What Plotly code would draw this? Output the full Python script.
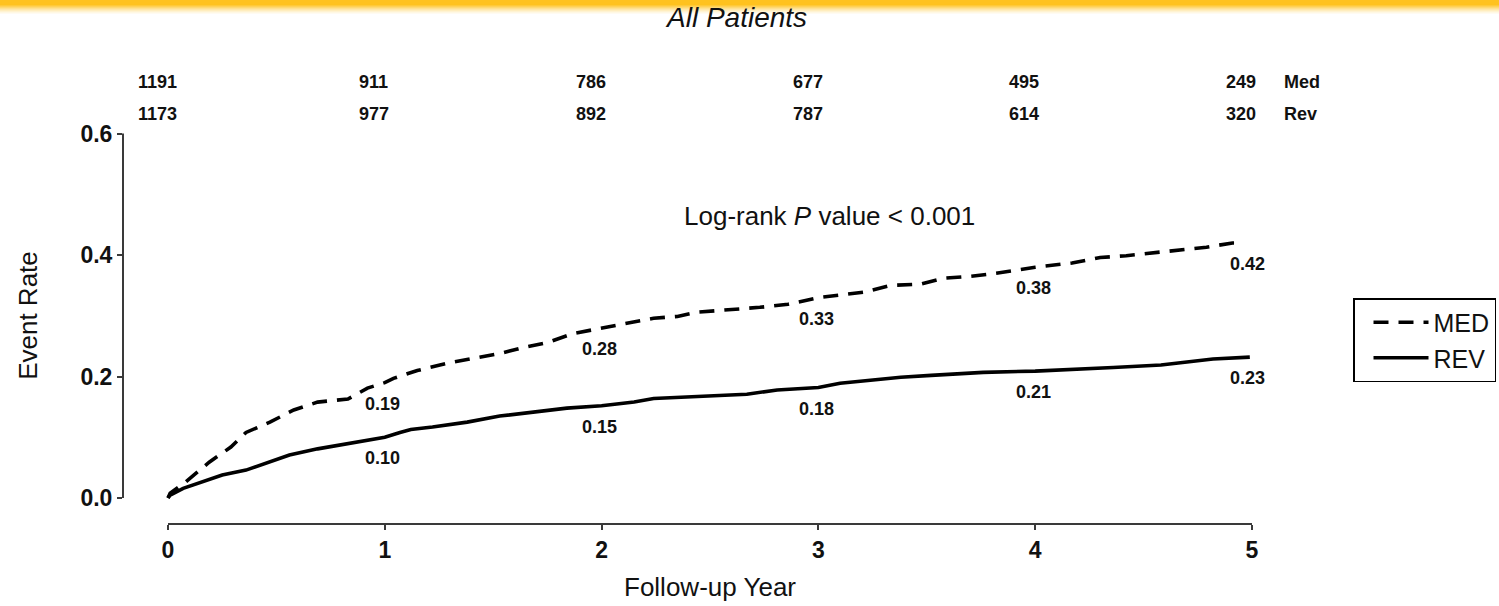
import plotly.graph_objects as go

# ---- data -------------------------------------------------------------
# cumulative event rate by follow-up year
med_years = [0, 0.01, 0.08, 0.19, 0.29, 0.36, 0.47, 0.58, 0.69, 0.83, 0.92,
             1.00, 1.04, 1.15, 1.29, 1.41, 1.53, 1.64, 1.75, 1.87, 2.00,
             2.12, 2.24, 2.35, 2.44, 2.73, 2.86, 3.00, 3.21, 3.33, 3.47,
             3.58, 3.70, 3.82, 4.00, 4.17, 4.30, 4.42, 4.54, 4.67, 4.79,
             4.91, 4.94]
med_rate = [0, 0.008, 0.026, 0.059, 0.084, 0.108, 0.125, 0.145, 0.158, 0.163,
            0.181, 0.190, 0.197, 0.210, 0.222, 0.230, 0.238, 0.248, 0.256,
            0.271, 0.280, 0.288, 0.296, 0.299, 0.306, 0.314, 0.319, 0.330,
            0.339, 0.350, 0.352, 0.362, 0.365, 0.370, 0.380, 0.387, 0.396,
            0.399, 0.404, 0.408, 0.413, 0.420, 0.420]

rev_years = [0, 0.01, 0.07, 0.15, 0.25, 0.36, 0.46, 0.56, 0.69, 0.79, 0.92,
             1.00, 1.07, 1.12, 1.22, 1.38, 1.53, 1.68, 1.84, 2.00, 2.15,
             2.24, 2.67, 2.81, 3.00, 3.10, 3.24, 3.38, 3.52, 3.64, 3.76,
             4.00, 4.15, 4.36, 4.58, 4.65, 4.82, 4.99]
rev_rate = [0, 0.005, 0.016, 0.026, 0.038, 0.046, 0.059, 0.071, 0.081, 0.087,
            0.095, 0.100, 0.108, 0.113, 0.117, 0.125, 0.135, 0.141, 0.148,
            0.152, 0.158, 0.164, 0.171, 0.178, 0.182, 0.189, 0.194, 0.199,
            0.202, 0.205, 0.207, 0.209, 0.212, 0.215, 0.219, 0.222, 0.229,
            0.232]

# years at which the rates are printed
label_years = [1, 2, 3, 4, 5]

# numbers at risk
risk_years = [0, 1, 2, 3, 4, 5]
risk_med = [1191, 911, 786, 677, 495, 249]
risk_rev = [1173, 977, 892, 787, 614, 320]

y_ticks = [0.0, 0.2, 0.4, 0.6]
x_ticks = [0, 1, 2, 3, 4, 5]

# ---- styling ----------------------------------------------------------
FONT = "Liberation Sans, Arial, sans-serif"
INK = "#111111"
AXIS = "#3a3a3a"

W, H = 1499, 606
M_L, M_R, M_T, M_B = 123, 239, 133, 82
PLOT_W = W - M_L - M_R
PLOT_H = H - M_T - M_B

X_MIN, X_MAX = -0.2076, 5.037
Y_MIN, Y_MAX = -0.0427, 0.601


def x_paper(t):
    """Data x -> paper fraction."""
    return (t - X_MIN) / (X_MAX - X_MIN)


def px_to_paper_y(py):
    """Page pixel row -> paper fraction."""
    return (H - M_B - py) / PLOT_H


def px_to_paper_x(px):
    return (px - M_L) / PLOT_W


def rate_at(years, rates, t):
    """Last recorded value at or before time t."""
    val = rates[0]
    for yr, r in zip(years, rates):
        if yr <= t + 1e-9:
            val = r
    return val


fig = go.Figure()

fig.add_trace(go.Scatter(
    x=med_years, y=med_rate, name="MED", mode="lines",
    line=dict(color="black", width=3.6, dash="15px,10px"),
))
fig.add_trace(go.Scatter(
    x=rev_years, y=rev_rate, name="REV", mode="lines",
    line=dict(color="black", width=3.6),
))

annotations = []
BOLD_NUM = dict(family=FONT, size=18, color=INK, weight="bold")

# rate labels under each curve
for years, rates in ((med_years, med_rate), (rev_years, rev_rate)):
    for t in label_years:
        v = rate_at(years, rates, t)
        annotations.append(dict(
            x=min(t, 4.99) - 0.01, y=v, xref="x", yref="y", text=f"{v:.2f}",
            showarrow=False, yshift=-21, xanchor="center", yanchor="middle",
            font=BOLD_NUM,
        ))

# numbers-at-risk rows above the plot
for row, py, tag in ((risk_med, 82, "Med"), (risk_rev, 114, "Rev")):
    for t, n in zip(risk_years, row):
        annotations.append(dict(
            x=x_paper(t - 0.05), y=px_to_paper_y(py), xref="paper",
            yref="paper", text=str(n), showarrow=False,
            xanchor="center", yanchor="middle", font=BOLD_NUM,
        ))
    annotations.append(dict(
        x=x_paper(5.138), y=px_to_paper_y(py), xref="paper", yref="paper",
        text=tag, showarrow=False, xanchor="left", yanchor="middle",
        font=BOLD_NUM,
    ))

# log-rank note
annotations.append(dict(
    x=3.05, y=0.465, xref="x", yref="y",
    text="Log-rank <i>P</i> value &lt; 0.001", showarrow=False,
    xanchor="center", yanchor="middle",
    font=dict(family=FONT, size=26, color=INK),
))

# axis titles
annotations.append(dict(
    x=x_paper(2.5), y=px_to_paper_y(587), xref="paper", yref="paper",
    text="Follow-up Year", showarrow=False,
    xanchor="center", yanchor="middle",
    font=dict(family=FONT, size=26, color=INK),
))
annotations.append(dict(
    x=px_to_paper_x(28), y=0.3, xref="paper", yref="y", text="Event Rate",
    showarrow=False, textangle=-90, xanchor="center", yanchor="middle",
    font=dict(family=FONT, size=26, color=INK),
))

# title
annotations.append(dict(
    x=px_to_paper_x(736), y=px_to_paper_y(18), xref="paper", yref="paper",
    text="<i>All Patients</i>", showarrow=False,
    xanchor="center", yanchor="middle",
    font=dict(family=FONT, size=28, color=INK),
))

shapes = []
# gold band along the top edge, fading to white
band_rows = [(0, 5, 1.0), (5, 6, 0.88), (6, 7, 0.76), (7, 8, 0.63),
             (8, 9, 0.5), (9, 10, 0.39), (10, 11, 0.29), (11, 12, 0.2),
             (12, 13, 0.12), (13, 14, 0.06)]
for top, bot, op in band_rows:
    shapes.append(dict(
        type="rect", xref="paper", yref="paper", layer="above",
        x0=px_to_paper_x(-5), x1=px_to_paper_x(W + 5),
        y0=px_to_paper_y(bot), y1=px_to_paper_y(top),
        fillcolor="rgb(255,194,30)", opacity=op, line=dict(width=0),
    ))

# axis lines spanning only the data ranges
shapes.append(dict(type="line", xref="paper", yref="y", x0=0, x1=0,
                   y0=0, y1=0.6, line=dict(color=AXIS, width=2)))
shapes.append(dict(type="line", xref="x", yref="paper", x0=0, x1=5,
                   y0=0, y1=0, line=dict(color=AXIS, width=2)))

fig.update_layout(
    width=W, height=H,
    margin=dict(l=M_L, r=M_R, t=M_T, b=M_B, autoexpand=False),
    paper_bgcolor="white", plot_bgcolor="white",
    showlegend=True,
    legend=dict(
        x=px_to_paper_x(1353), y=px_to_paper_y(298),
        xref="paper", yref="paper", xanchor="left", yanchor="top",
        bordercolor="black", borderwidth=1.5, bgcolor="white",
        font=dict(family=FONT, size=25, color=INK),
        itemwidth=55, indentation=14, tracegroupgap=0,
    ),
    annotations=annotations,
    shapes=shapes,
    xaxis=dict(
        range=[X_MIN, X_MAX], showgrid=False, zeroline=False, showline=False,
        tickmode="array", tickvals=x_ticks, ticktext=[str(v) for v in x_ticks],
        ticks="outside", ticklen=5, tickwidth=2, tickcolor=AXIS,
        tickfont=dict(family=FONT, size=23, color=INK, weight="bold"),
    ),
    yaxis=dict(
        range=[Y_MIN, Y_MAX], showgrid=False, zeroline=False, showline=False,
        tickmode="array", tickvals=y_ticks,
        ticktext=[f"{v:.1f}" for v in y_ticks],
        ticks="outside", ticklen=5, tickwidth=2, tickcolor=AXIS,
        tickfont=dict(family=FONT, size=23, color=INK, weight="bold"),
    ),
)

fig.write_html("out.html")
